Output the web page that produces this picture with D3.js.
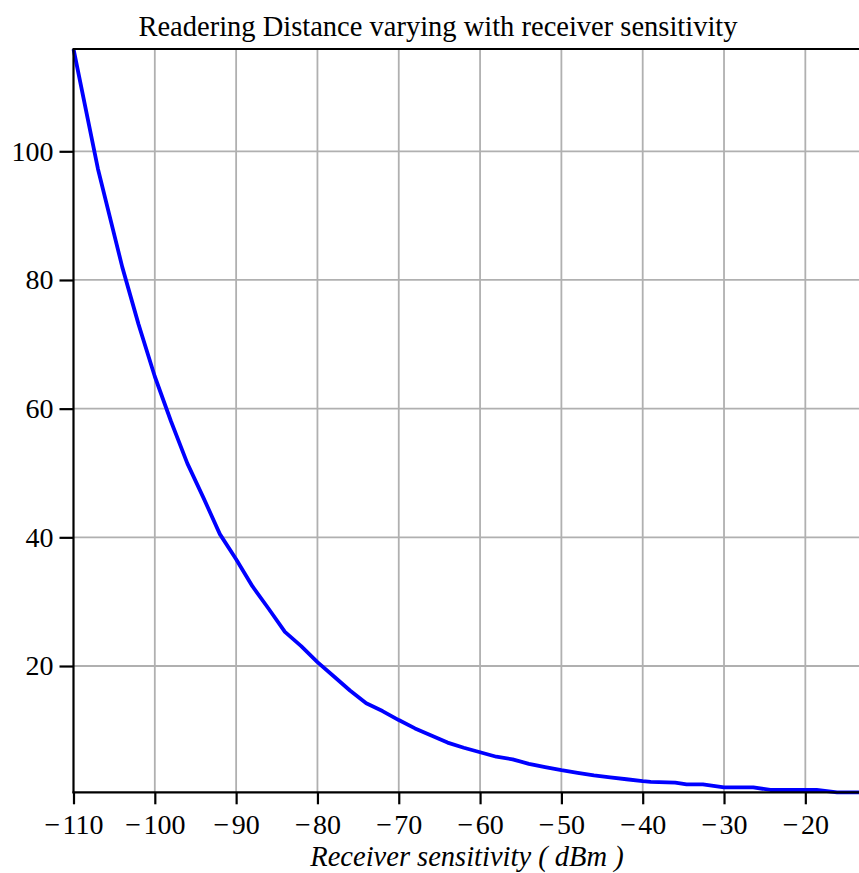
<!DOCTYPE html>
<html><head><meta charset="utf-8">
<script src="https://cdn.jsdelivr.net/npm/d3@7"></script>
<style>body{margin:0;background:#fff}svg{display:block}</style>
</head><body>
<svg id="c" width="859" height="873"></svg>
<script>
const title = "Readering Distance varying with receiver sensitivity";
const xLabel = "Receiver sensitivity ( dBm )";
const sensitivity = [-110,-107,-104,-102,-100,-98,-96,-94,-92,-90,-88,-86,-84,-82,-80,-78,-76,-74,-72,-70,-68,-66,-64,-62,-60,-58,-56,-54,-52,-50,-48,-46,-44,-42,-40,-39,-36,-34.6,-32.6,-30,-26.4,-24.3,-18.6,-16.1,-13.4];
const distance =    [115.9,97.3,82.0,73.1,65.0,58.0,51.5,46.1,40.5,36.6,32.4,28.9,25.3,23.1,20.6,18.4,16.2,14.2,13.0,11.6,10.3,9.2,8.1,7.3,6.6,5.9,5.5,4.8,4.3,3.8,3.4,3.0,2.7,2.4,2.1,2.0,1.87,1.6,1.6,1.15,1.15,0.73,0.73,0.37,0.37];
const xTicks = [-110,-100,-90,-80,-70,-60,-50,-40,-30,-20];
const yTicks = [20,40,60,80,100];

const svg = d3.select("#c");
const L = 73.5, R = 859, T = 49, B = 792.3;
const x = d3.scaleLinear().domain([-110, -13.4]).range([L, R]);
const y = d3.scaleLinear().domain([0.37, 115.9]).range([B, T]);
const serif = "'Liberation Serif','DejaVu Serif',serif";

// grid
svg.append("g").selectAll("line.vx").data(xTicks.slice(1)).join("line")
  .attr("x1", d => x(d)).attr("x2", d => x(d)).attr("y1", T).attr("y2", B)
  .attr("stroke", "#b0b0b0").attr("stroke-width", 1.8);
svg.append("g").selectAll("line.hy").data(yTicks).join("line")
  .attr("x1", L).attr("x2", R).attr("y1", d => y(d)).attr("y2", d => y(d))
  .attr("stroke", "#b0b0b0").attr("stroke-width", 1.8);

// line
svg.append("path").datum(sensitivity.map((s, i) => [s, distance[i]]))
  .attr("fill", "none").attr("stroke", "#0000ff").attr("stroke-width", 3.8)
  .attr("stroke-linejoin", "round")
  .attr("d", d3.line().x(d => x(d[0])).y(d => y(d[1])));

// axes
const fmt = d => (d < 0 ? "\u2212\u200A" : "") + Math.abs(d);
const xAxis = svg.append("g").attr("transform", `translate(0,${B})`)
  .call(d3.axisBottom(x).tickValues(xTicks).tickFormat(fmt).tickSize(12).tickPadding(4));
const yAxis = svg.append("g").attr("transform", `translate(${L},0)`)
  .call(d3.axisLeft(y).tickValues(yTicks).tickSize(14).tickPadding(6));
[xAxis, yAxis].forEach(a => {
  a.select(".domain").remove();
  a.selectAll(".tick line").attr("stroke", "#000").attr("stroke-width", 2.2);
  a.selectAll(".tick text").attr("fill", "#000").style("font-family", serif).style("font-size", "28px");
});
xAxis.selectAll(".tick text").attr("dy", "0.92em");
// spines
svg.append("line").attr("x1", L).attr("x2", L).attr("y1", T).attr("y2", B + 1).attr("stroke", "#000").attr("stroke-width", 2.2);
svg.append("line").attr("x1", L - 1).attr("x2", R).attr("y1", B).attr("y2", B).attr("stroke", "#000").attr("stroke-width", 2.2);
svg.append("line").attr("x1", L - 1).attr("x2", R).attr("y1", T).attr("y2", T).attr("stroke", "#000").attr("stroke-width", 2.2);

svg.append("text").attr("x", 438).attr("y", 36).attr("text-anchor", "middle")
  .style("font-family", serif).style("font-size", "28.5px").text(title);
svg.append("text").attr("x", 467).attr("y", 866).attr("text-anchor", "middle")
  .style("font-family", serif).style("font-size", "28.5px").style("font-style", "italic").text(xLabel);
</script>
</body></html>
